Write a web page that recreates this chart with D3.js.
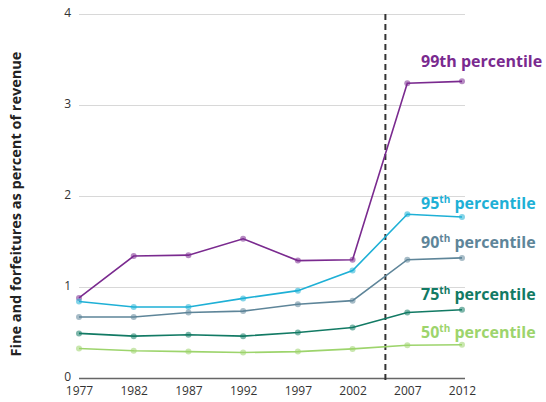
<!DOCTYPE html>
<html>
<head>
<meta charset="utf-8">
<script src="https://cdn.jsdelivr.net/npm/d3@7"></script>
<style>
  body { margin: 0; background: #fff; }
  text { font-family: "Open Sans", "Noto Sans", sans-serif; }
  .tick text { font-size: 12px; fill: #333; }
  .axis-label { font-size: 14.5px; font-weight: bold; fill: #222; }
  .series-label { font-size: 16px; font-weight: bold; }
</style>
</head>
<body>
<svg width="546" height="402"></svg>
<script>
const years = [1977, 1982, 1987, 1992, 1997, 2002, 2007, 2012];

const p99 = [0.88, 1.34, 1.35, 1.53, 1.29, 1.30, 3.24, 3.26];
const p95 = [0.84, 0.78, 0.78, 0.875, 0.96, 1.18, 1.80, 1.77];
const p90 = [0.67, 0.67, 0.72, 0.735, 0.81, 0.85, 1.30, 1.32];
const p75 = [0.49, 0.46, 0.475, 0.46, 0.50, 0.555, 0.72, 0.75];
const p50 = [0.325, 0.30, 0.29, 0.28, 0.29, 0.32, 0.36, 0.365];

const seriesNames = ['99', '95', '90', '75', '50'];
const seriesColors = ['#7a2a8f', '#1eb0d6', '#5e8599', '#127a64', '#9dd46c'];
const labelY = [3.42, 1.86, 1.43, 0.86, 0.44];
const yTicks = [0, 1, 2, 3, 4];
const breakYear = 2005;

const yLabel = 'Fine and forfeitures as percent of revenue';

const series = [p99, p95, p90, p75, p50].map((vals, i) => ({
    name: seriesNames[i],
    color: seriesColors[i],
    labelY: labelY[i],
    points: vals.map((v, j) => ({ year: years[j], value: v }))
}));

const margin = { left: 79, right: 81, top: 14, bottom: 24 };

const svg = d3.select('svg');
const width = +svg.attr('width');
const height = +svg.attr('height');
const innerWidth = width - margin.left - margin.right;
const innerHeight = height - margin.top - margin.bottom;

const g = svg.append('g')
    .attr('transform', `translate(${margin.left},${margin.top})`);

const xScale = d3.scaleLinear()
    .domain([1977, 2012])
    .range([0, innerWidth - 3]);

const yScale = d3.scaleLinear()
    .domain([0, 4])
    .range([innerHeight, 0]);

// gridlines
const yAxisG = g.append('g')
    .call(d3.axisLeft(yScale)
        .tickValues(yTicks)
        .tickFormat(d3.format('d'))
        .tickSize(-innerWidth)
        .tickPadding(8));
yAxisG.select('.domain').remove();
yAxisG.selectAll('.tick line')
    .attr('stroke', '#d8d8d8')
    .attr('stroke-width', 1.2);
yAxisG.selectAll('.tick text').attr('dy', '0.2em');
yAxisG.selectAll('.tick')
    .filter(d => d === 0)
    .select('line')
    .attr('stroke', '#666')
    .attr('stroke-width', 1.5);

const xAxisG = g.append('g')
    .attr('transform', `translate(0,${innerHeight})`)
    .call(d3.axisBottom(xScale)
        .tickValues(years)
        .tickFormat(d3.format('d'))
        .tickSize(0)
        .tickPadding(8));
xAxisG.select('.domain').remove();

g.append('text')
    .attr('class', 'axis-label')
    .attr('transform', 'rotate(-90)')
    .attr('x', -190)
    .attr('y', -58)
    .style('text-anchor', 'middle')
    .text(yLabel);

// dashed break line
g.append('line')
    .attr('x1', xScale(breakYear))
    .attr('x2', xScale(breakYear))
    .attr('y1', 0)
    .attr('y2', innerHeight + 4)
    .attr('stroke', '#333')
    .attr('stroke-width', 2)
    .attr('stroke-dasharray', '6,4');

const line = d3.line()
    .x(d => xScale(d.year))
    .y(d => yScale(d.value));

const seriesG = g.selectAll('.series').data(series)
    .enter().append('g')
    .attr('class', 'series');

seriesG.append('path')
    .attr('d', d => line(d.points))
    .attr('fill', 'none')
    .attr('stroke', d => d.color)
    .attr('stroke-width', 1.6);

seriesG.selectAll('circle').data(d => d.points.map(p => ({ ...p, color: d.color })))
    .enter().append('circle')
    .attr('cx', d => xScale(d.year))
    .attr('cy', d => yScale(d.value))
    .attr('r', 3)
    .attr('fill', d => d.color)
    .attr('fill-opacity', 0.55);

const labels = seriesG.append('text')
    .attr('class', 'series-label')
    .attr('x', 342)
    .attr('y', d => yScale(d.labelY))
    .attr('fill', d => d.color);

labels.append('tspan').text(d => d.name);
labels.append('tspan')
    .attr('font-size', d => d.name === '99' ? null : '10px')
    .attr('dy', d => d.name === '99' ? 0 : -6)
    .text('th');
labels.append('tspan')
    .attr('dy', d => d.name === '99' ? 0 : 6)
    .text(' percentile');
</script>
</body>
</html>
